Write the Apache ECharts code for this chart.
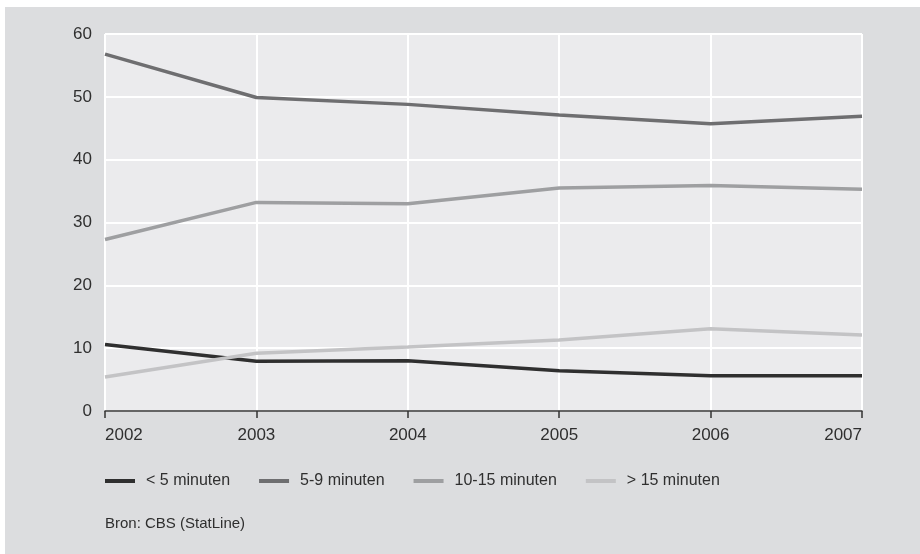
<!DOCTYPE html>
<html>
<head>
<meta charset="utf-8">
<script src="https://cdn.jsdelivr.net/npm/echarts@6/dist/echarts.min.js"></script>
<style>
html,body{margin:0;padding:0;background:#fff;}
#c{width:920px;height:554px;}
</style>
</head>
<body>
<div id="c"></div>
<script>
const years = ['2002', '2003', '2004', '2005', '2006', '2007'];
const seriesNames = ['< 5 minuten', '5-9 minuten', '10-15 minuten', '> 15 minuten'];
const under5 = [10.6, 7.9, 8.0, 6.4, 5.6, 5.6];
const from5to9 = [56.8, 49.9, 48.8, 47.1, 45.7, 46.9];
const from10to15 = [27.3, 33.2, 33.0, 35.5, 35.9, 35.3];
const over15 = [5.4, 9.2, 10.2, 11.3, 13.1, 12.1];
const yTicks = { min: 0, max: 60, interval: 10 };
const sourceText = 'Bron: CBS (StatLine)';

const colors = ['#2f2f2f', '#6e6e70', '#9e9fa1', '#c3c3c5'];
const regular = "'Liberation Sans', Arial, sans-serif";

const chart = echarts.init(document.getElementById('c'), null, { renderer: 'canvas' });
const dataSets = [under5, from5to9, from10to15, over15];

chart.setOption({
  animation: false,
  backgroundColor: '#ffffff',
  graphic: [
    { type: 'rect', left: 5, top: 7, z: -100, silent: true,
      shape: { width: 915, height: 547 }, style: { fill: '#dcdddf' } },
    { type: 'text', left: 105, top: 516, z: 10,
      style: { text: sourceText, font: '15px ' + regular, fill: '#2f2f2f' } }
  ],
  grid: {
    left: 105, right: 58, top: 34, bottom: 143,
    show: true, backgroundColor: '#ebebed', borderWidth: 0
  },
  legend: {
    left: 105, top: 473, padding: 0,
    itemWidth: 30, itemHeight: 4, itemGap: 29,
    icon: 'rect',
    data: seriesNames,
    textStyle: { fontFamily: regular, fontSize: 16, color: '#2f2f2f', padding: [0, 0, 0, 6] }
  },
  xAxis: {
    type: 'category',
    data: years,
    boundaryGap: false,
    axisLine: { show: true, lineStyle: { color: '#333333', width: 1.5 } },
    axisTick: { show: true, length: 7, lineStyle: { color: '#333333', width: 1.5 } },
    axisLabel: {
      color: '#2f2f2f', fontFamily: regular, fontSize: 17, margin: 16,
      alignMinLabel: 'left', alignMaxLabel: 'right'
    },
    splitLine: { show: true, lineStyle: { color: '#ffffff', width: 2 } }
  },
  yAxis: {
    type: 'value',
    min: yTicks.min, max: yTicks.max, interval: yTicks.interval,
    axisLine: { show: false },
    axisTick: { show: false },
    axisLabel: { color: '#2f2f2f', fontFamily: regular, fontSize: 17, margin: 13, padding: [0, 0, 4, 0] },
    splitLine: { show: true, lineStyle: { color: '#ffffff', width: 2 } }
  },
  series: seriesNames.map((name, i) => ({
    name: name,
    type: 'line',
    data: dataSets[i],
    symbol: 'none',
    lineStyle: { color: colors[i], width: 3.5 },
    itemStyle: { color: colors[i] },
    z: 3
  }))
});
</script>
</body>
</html>
